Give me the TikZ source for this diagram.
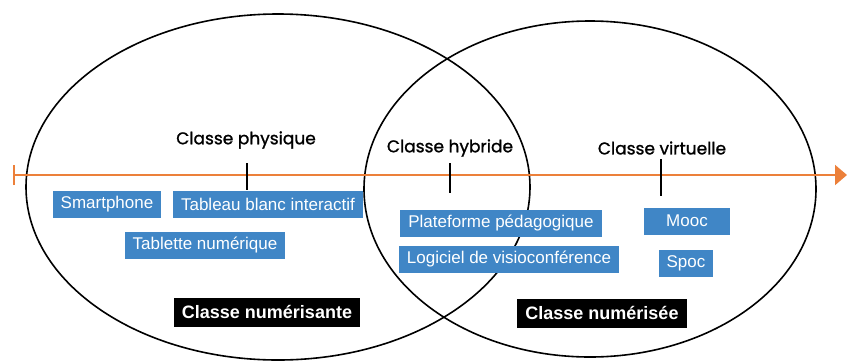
\documentclass[tikz,border=0pt]{standalone}
\usepackage{fontspec}
\setmainfont{Liberation Sans}
\newfontfamily\headfont{Poppins}[FakeBold=1.2]
\usetikzlibrary{arrows.meta}
\definecolor{axisorange}{RGB}{236,128,58}
\definecolor{toolblue}{RGB}{64,134,198}

\begin{document}
\begin{tikzpicture}[x=1pt,y=-1pt,
  tool/.style={fill=toolblue,text=white,font=\fontsize{17}{19}\selectfont,inner xsep=8pt,inner ysep=0pt,minimum height=27pt},
  kind/.style={fill=black,text=white,font=\bfseries\fontsize{18}{20}\selectfont,inner xsep=8pt,inner ysep=0pt,minimum height=29pt},
  level/.style={font=\headfont\fontsize{17}{19}\selectfont},
  tick/.style={black,line width=1.6pt},
  axis/.style={axisorange,line width=2pt,{Bar[width=20pt]}-{Triangle[length=12pt,width=20pt]}}]
  \useasboundingbox (0,0) rectangle (847,360);

  % the two classes, numerisante and numerisee
  \draw[line width=1.6pt] (278,187) ellipse [x radius=252pt, y radius=173pt];
  \draw[line width=1.6pt] (590,189) ellipse [x radius=226pt, y radius=168pt];

  % the axis from physical to virtual
  \coordinate (axstart) at (13,175);
  \coordinate (axend) at (847,175);
  \draw[axis] (axstart) -- (axend);

  % levels on the axis
  \node[level] (phys) at (246,140) {Classe physique};
  \node[level] (hyb) at (450,148) {Classe hybride};
  \node[level] (virt) at (662,148) {Classe virtuelle};
  \coordinate (tphys) at (247,163);
  \coordinate (thyb) at (450,163);
  \coordinate (tvirt) at (661,159);
  \draw[tick] (tphys) -- ++(0,27);
  \draw[tick] (thyb) -- ++(0,30);
  \draw[tick] (tvirt) -- ++(0,37);

  % tools
  \node[tool] (smart) at (107,204) {Smartphone};
  \node[tool] (tbi) at (268,204) {Tableau blanc interactif};
  \node[tool] (tablet) at (205,245) {Tablette numérique};
  \node[tool] (platf) at (501,223) {Plateforme pédagogique};
  \node[tool] (visio) at (509,259) {Logiciel de visioconférence};
  \node[tool,minimum width=86pt] (mooc) at (687,221) {Mooc};
  \node[tool] (spoc) at (686,263) {Spoc};

  % names of the two sets
  \node[kind] (nsante) at (267,312) {Classe numérisante};
  \node[kind] (nsee) at (602,313) {Classe numérisée};
\end{tikzpicture}
\end{document}
